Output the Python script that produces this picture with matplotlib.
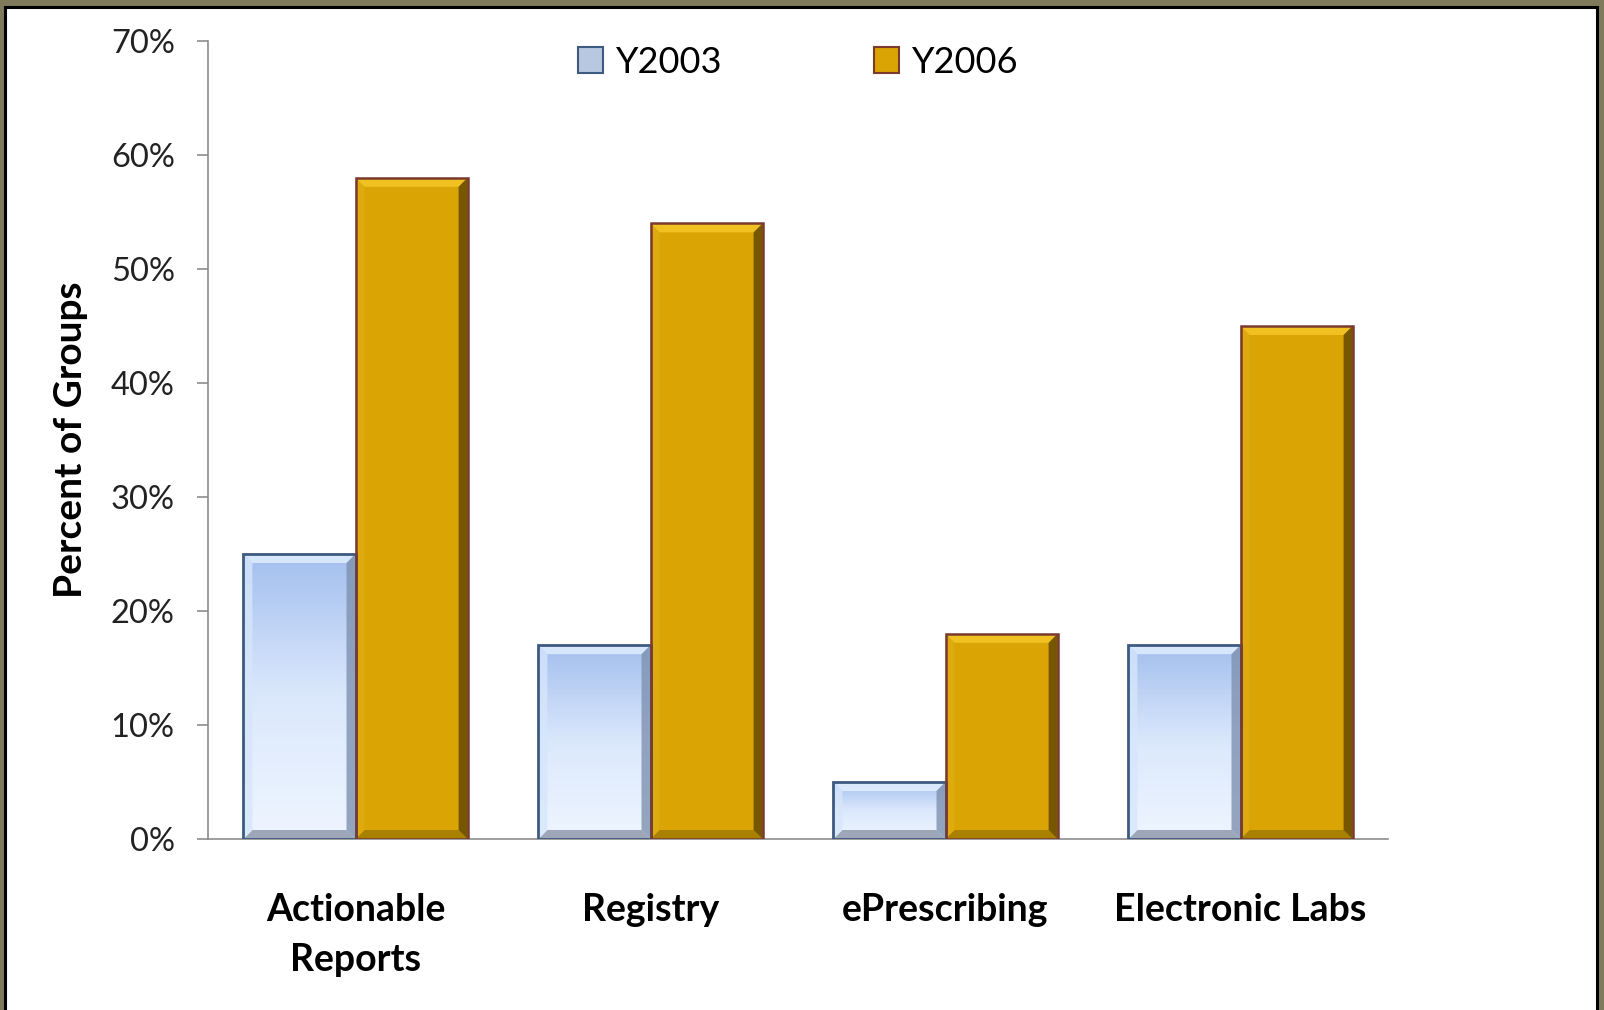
import matplotlib.pyplot as plt
import numpy as np
from matplotlib.patches import Rectangle, Polygon, Patch
from matplotlib.colors import LinearSegmentedColormap

plt.rcParams['font.family'] = ['Lato', 'DejaVu Sans']

# Data
categories = ['Actionable\nReports', 'Registry', 'ePrescribing', 'Electronic Labs']
y2003 = [25, 17, 5, 17]
y2006 = [58, 54, 18, 45]
series_names = ['Y2003', 'Y2006']

BLUE_EDGE = '#3d5a80'
GOLD = '#d9a404'
GOLD_EDGE = '#7a3a30'

W, H = 16.04, 10.10
fig = plt.figure(figsize=(W, H), dpi=100)
fig.patch.set_facecolor('#807a5c')

# white panel with black frame (picture is cropped at the bottom)
panel = Rectangle((5 / 1604, -0.01), (1597 - 5) / 1604, 1 - 7 / 1010 + 0.01,
                  transform=fig.transFigure, facecolor='white',
                  edgecolor='black', linewidth=2.2, zorder=-5)
fig.patches.append(panel)

ax = fig.add_axes([208 / 1604, 1 - 839 / 1010, 1180 / 1604, 798 / 1010])
ax.set_facecolor('none')

bw = 0.38
x = np.arange(len(categories))

# pixel -> data conversion for the bevel
px_x = (len(categories)) / 1180.0
px_y = 70 / 798.0
bx, by = 9 * px_x, 9 * px_y

blue_cmap = LinearSegmentedColormap.from_list('bl', ['#eef5ff', '#dbe8fc', '#a3bfee'])
grad = np.linspace(0, 1, 256).reshape(-1, 1)


def bevel(x0, x1, y0, y1, top, left, right, bottom):
    polys = [
        ([(x0, y1), (x1, y1), (x1 - bx, y1 - by), (x0 + bx, y1 - by)], top),
        ([(x0, y0), (x1, y0), (x1 - bx, y0 + by), (x0 + bx, y0 + by)], bottom),
        ([(x0, y0), (x0, y1), (x0 + bx, y1 - by), (x0 + bx, y0 + by)], left),
        ([(x1, y0), (x1, y1), (x1 - bx, y1 - by), (x1 - bx, y0 + by)], right),
    ]
    for pts, c in polys:
        ax.add_patch(Polygon(pts, closed=True, facecolor=c, edgecolor='none',
                             alpha=0.8, zorder=3))


for i in range(len(categories)):
    # Y2003 bar: blue gradient
    x0, x1 = x[i] - bw, x[i]
    v = y2003[i]
    im = ax.imshow(grad, extent=[x0, x1, 0, v], origin='lower', aspect='auto',
                   cmap=blue_cmap, vmin=0, vmax=1, zorder=2)
    r = Rectangle((x0, 0), bw, v, facecolor='none', edgecolor='none')
    ax.add_patch(r)
    im.set_clip_path(r)
    bevel(x0, x1, 0, v, '#e4f1ff', '#d6e6fb', '#7e91b0', '#8a94a6')
    ax.add_patch(Rectangle((x0, 0), bw, v, facecolor='none',
                           edgecolor=BLUE_EDGE, linewidth=2, zorder=4))

    # Y2006 bar: gold
    x0, x1 = x[i], x[i] + bw
    v = y2006[i]
    ax.add_patch(Rectangle((x0, 0), bw, v, facecolor=GOLD, edgecolor='none', zorder=2))
    bevel(x0, x1, 0, v, '#f6c929', '#e0ac10', '#5e4400', '#9e7800')
    ax.add_patch(Rectangle((x0, 0), bw, v, facecolor='none',
                           edgecolor=GOLD_EDGE, linewidth=1.8, zorder=4))

ax.set_xlim(-0.5, len(categories) - 0.5)
ax.set_ylim(0, 70)
ax.set_yticks(np.arange(0, 71, 10))
ax.set_yticklabels([f'{t}%' for t in range(0, 71, 10)])
ax.set_xticks(x)
ax.set_xticklabels(categories, fontweight='bold', linespacing=1.55)

ax.tick_params(axis='y', labelsize=23.5, length=8, width=1.2, color='#8c8c8c',
               pad=16, labelcolor='#222222')
ax.tick_params(axis='x', labelsize=27, length=0, pad=39)

for s in ['top', 'right']:
    ax.spines[s].set_visible(False)
for s in ['left', 'bottom']:
    ax.spines[s].set_color('#8c8c8c')
    ax.spines[s].set_linewidth(1.2)
ax.spines['left'].set_zorder(1)

ax.set_ylabel('Percent of Groups', fontsize=28, fontweight='bold', labelpad=16)

handles = [Patch(facecolor='#b8c8e0', edgecolor=BLUE_EDGE, linewidth=1.5),
           Patch(facecolor=GOLD, edgecolor=GOLD_EDGE, linewidth=1.5)]
ax.legend(handles, series_names, loc='upper center', bbox_to_anchor=(0.5, 1.035),
          ncol=2, frameon=False, fontsize=26, handlelength=0.7, handleheight=0.75,
          handletextpad=0.35, columnspacing=4.2)

fig.savefig('out.png', dpi=100)
